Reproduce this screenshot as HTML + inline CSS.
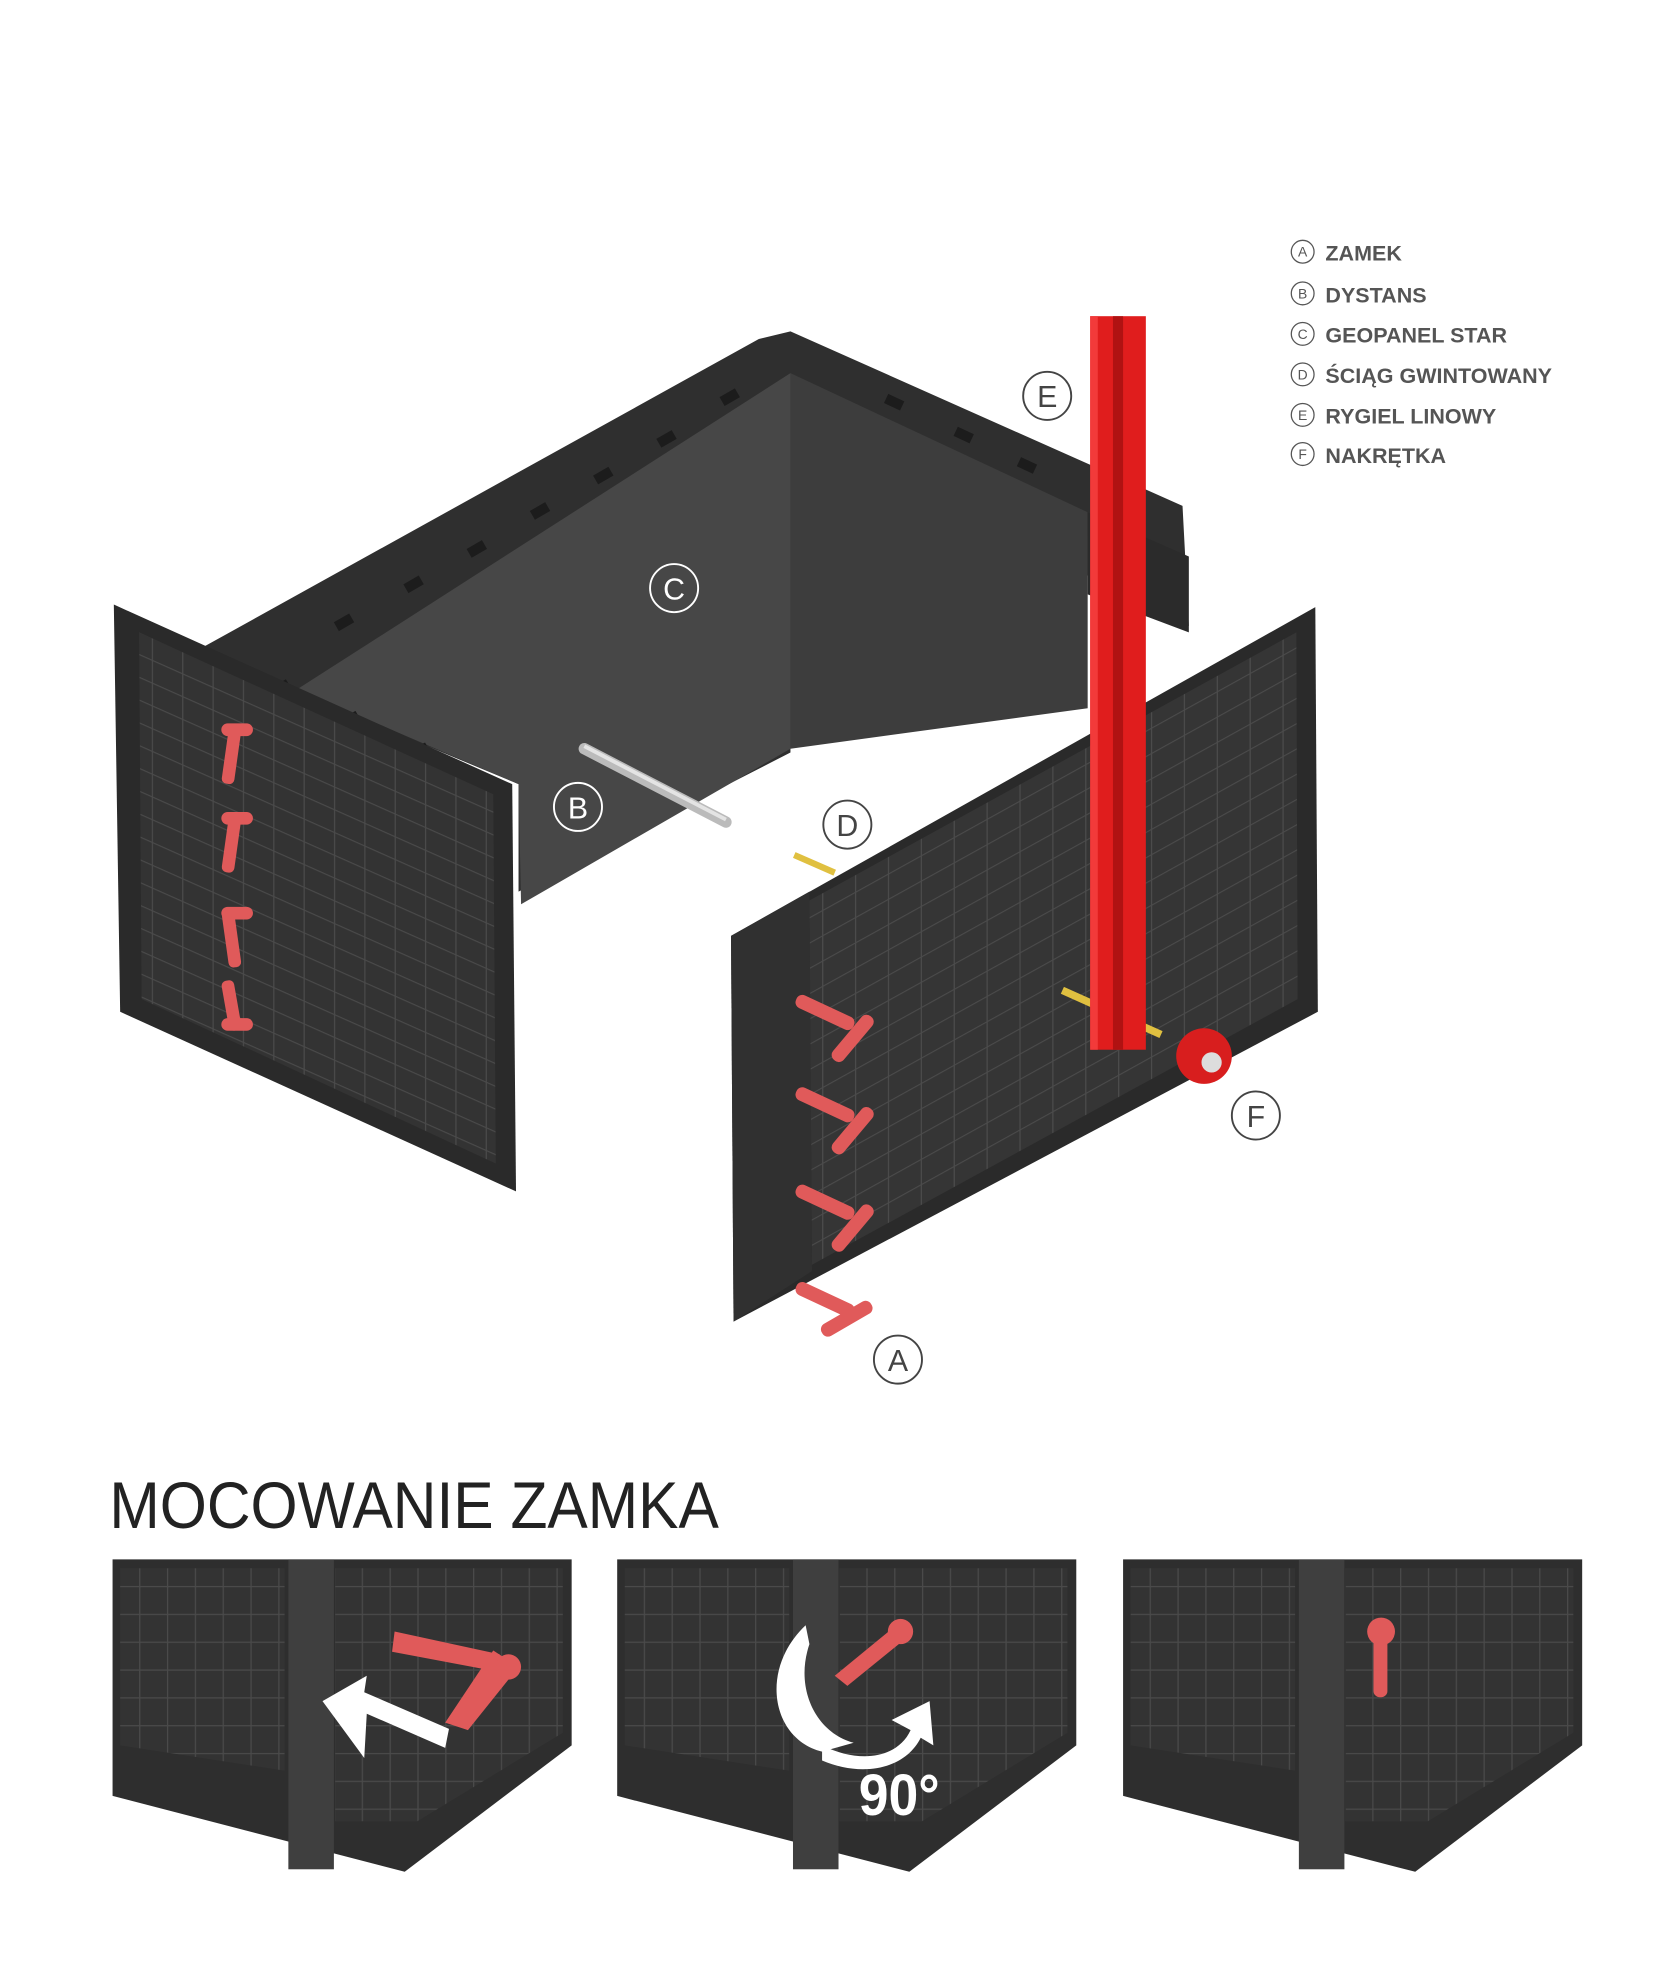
<!DOCTYPE html>
<html><head><meta charset="utf-8"><style>
html,body{margin:0;padding:0;background:#fff;}
svg{display:block;}
text{font-family:"Liberation Sans",sans-serif;}
</style></head><body>
<svg width="1653" height="1973" viewBox="0 0 1307 1560" xmlns="http://www.w3.org/2000/svg">
<defs>
<pattern id="grid" width="22" height="22" patternUnits="userSpaceOnUse">
<rect width="22" height="22" fill="#333"/>
<path d="M0 0H22M0 0V22" stroke="#4a4a4a" stroke-width="2"/>
</pattern>
<pattern id="grid2" width="26" height="20" patternUnits="userSpaceOnUse" patternTransform="skewY(-29)">
<rect width="26" height="20" fill="#353535"/>
<path d="M0 0H26M0 0V20" stroke="#4b4b4b" stroke-width="2"/>
</pattern>
<pattern id="grid3" width="24" height="18" patternUnits="userSpaceOnUse" patternTransform="skewY(24)">
<rect width="24" height="18" fill="#333"/>
<path d="M0 0H24M0 0V18" stroke="#4a4a4a" stroke-width="2"/>
</pattern>
</defs>

<!-- legend -->
<g font-size="17" font-weight="bold" fill="#555">
<g fill="none" stroke="#555" stroke-width="1"><circle cx="1030" cy="199" r="9"/><circle cx="1030" cy="232" r="9"/><circle cx="1030" cy="264" r="9"/><circle cx="1030" cy="296" r="9"/><circle cx="1030" cy="328" r="9"/><circle cx="1030" cy="359" r="9"/></g>
<g font-size="11" font-weight="normal" text-anchor="middle"><text x="1030" y="203">A</text><text x="1030" y="236">B</text><text x="1030" y="268">C</text><text x="1030" y="300">D</text><text x="1030" y="332">E</text><text x="1030" y="363">F</text></g>
<text x="1048" y="206">ZAMEK</text><text x="1048" y="239">DYSTANS</text><text x="1048" y="271">GEOPANEL STAR</text><text x="1048" y="303">ŚCIĄG GWINTOWANY</text><text x="1048" y="335">RYGIEL LINOWY</text><text x="1048" y="366">NAKRĘTKA</text>
</g>

<!-- back long wall -->
<polygon points="160,512 600,268 625,262 935,400 940,495 860,455 625,345 625,595 410,705 410,620 230,545" fill="#2f2f2f"/>
<polygon points="235,545 625,295 625,592 412,715 410,620" fill="#474747"/>
<polygon points="625,295 860,405 860,560 625,592" fill="#3d3d3d"/>
<polygon points="860,405 940,440 940,500 860,470" fill="#2b2b2b"/>
<g fill="#1c1c1c">
<rect x="265" y="488" width="14" height="8" transform="rotate(-30 272 492)"/>
<rect x="320" y="458" width="14" height="8" transform="rotate(-30 327 462)"/>
<rect x="370" y="430" width="14" height="8" transform="rotate(-30 377 434)"/>
<rect x="420" y="400" width="14" height="8" transform="rotate(-30 427 404)"/>
<rect x="470" y="372" width="14" height="8" transform="rotate(-30 477 376)"/>
<rect x="520" y="343" width="14" height="8" transform="rotate(-30 527 347)"/>
<rect x="570" y="310" width="14" height="8" transform="rotate(-30 577 314)"/>
<rect x="700" y="314" width="14" height="8" transform="rotate(25 707 318)"/>
<rect x="755" y="340" width="14" height="8" transform="rotate(25 762 344)"/>
<rect x="805" y="364" width="14" height="8" transform="rotate(25 812 368)"/>
<rect x="215" y="540" width="14" height="8" transform="rotate(-30 222 544)"/>
<rect x="270" y="565" width="14" height="8" transform="rotate(-30 277 569)"/>
<rect x="325" y="590" width="14" height="8" transform="rotate(-30 332 594)"/>
</g>

<!-- left end panel -->
<polygon points="90,478 405,620 408,942 95,800" fill="#2a2a2a"/>
<polygon points="110,500 390,628 392,920 112,790" fill="url(#grid3)"/>

<!-- spacer B -->
<line x1="462" y1="592" x2="574" y2="650" stroke="#bbb" stroke-width="9" stroke-linecap="round"/>
<line x1="462" y1="590" x2="574" y2="648" stroke="#e4e4e4" stroke-width="3"/>

<!-- rod D -->
<line x1="628" y1="676" x2="660" y2="690" stroke="#e0c040" stroke-width="5"/>

<!-- right front panel -->
<polygon points="578,740 1040,480 1042,800 580,1045" fill="#2a2a2a"/>
<polygon points="640,712 1025,500 1026,790 642,1000" fill="url(#grid2)"/>
<polygon points="578,740 640,705 642,1005 580,1045" fill="#303030"/>

<!-- rod behind beam -->
<line x1="840" y1="783" x2="918" y2="818" stroke="#e0c040" stroke-width="6"/>

<!-- red beam E -->
<rect x="862" y="250" width="44" height="580" fill="#e01d1d"/>
<rect x="880" y="250" width="8" height="580" fill="#b01212"/>
<rect x="862" y="250" width="6" height="580" fill="#f23a3a"/>

<!-- nut F -->
<circle cx="952" cy="835" r="22" fill="#d81e1e"/>
<circle cx="958" cy="840" r="8" fill="#ddd"/>

<!-- locks left panel -->
<g fill="#e05a5a">
<rect x="178" y="575" width="10" height="45" rx="4" transform="rotate(8 183 597)"/>
<rect x="175" y="572" width="25" height="10" rx="5"/>
<rect x="178" y="645" width="10" height="45" rx="4" transform="rotate(8 183 667)"/>
<rect x="175" y="642" width="25" height="10" rx="5"/>
<rect x="178" y="720" width="10" height="45" rx="4" transform="rotate(-8 183 742)"/>
<rect x="175" y="717" width="25" height="10" rx="5"/>
<rect x="178" y="775" width="10" height="40" rx="4" transform="rotate(-10 183 795)"/>
<rect x="175" y="805" width="25" height="10" rx="5"/>
</g>
<!-- locks right panel -->
<g fill="#e05a5a">
<g transform="translate(632,785)"><rect x="0" y="0" width="50" height="11" rx="5" transform="rotate(25)"/><rect x="50" y="18" width="11" height="45" rx="5" transform="rotate(40 55 20)"/></g>
<g transform="translate(632,858)"><rect x="0" y="0" width="50" height="11" rx="5" transform="rotate(25)"/><rect x="50" y="18" width="11" height="45" rx="5" transform="rotate(40 55 20)"/></g>
<g transform="translate(632,935)"><rect x="0" y="0" width="50" height="11" rx="5" transform="rotate(25)"/><rect x="50" y="18" width="11" height="45" rx="5" transform="rotate(40 55 20)"/></g>
<g transform="translate(632,1012)"><rect x="0" y="0" width="50" height="11" rx="5" transform="rotate(25)"/><rect x="50" y="18" width="11" height="45" rx="5" transform="rotate(60 55 20)"/></g>
</g>

<!-- callout circles -->
<g fill="none" stroke="#444" stroke-width="1.5">
<circle cx="828" cy="313" r="19"/><circle cx="533" cy="465" r="19" stroke="#fff"/><circle cx="457" cy="638" r="19" stroke="#fff"/><circle cx="670" cy="652" r="19"/><circle cx="993" cy="882" r="19"/><circle cx="710" cy="1075" r="19"/>
</g>
<g font-size="24" text-anchor="middle" fill="#444">
<text x="828" y="322">E</text><text x="533" y="474" fill="#fff">C</text><text x="457" y="647" fill="#fff">B</text><text x="670" y="661">D</text><text x="993" y="891">F</text><text x="710" y="1084">A</text>
</g>

<!-- title -->
<text x="87" y="1208" font-size="52" fill="#222" transform="scale(0.92 1) translate(7 0)">MOCOWANIE ZAMKA</text>

<!-- bottom panels -->
<g id="p1">
<polygon points="89,1233 452,1233 452,1380 320,1480 89,1420" fill="#2e2e2e"/>
<polygon points="95,1240 225,1240 225,1400 95,1380" fill="url(#grid)"/>
<polygon points="265,1240 445,1240 445,1370 330,1440 265,1440" fill="url(#grid)"/>
<rect x="228" y="1233" width="36" height="245" fill="#3f3f3f"/>
</g>
<use href="#p1" x="399"/>
<use href="#p1" x="799"/>

<!-- panel1 lock + arrow -->
<g fill="#e05a5a">
<polygon points="312,1290 395,1308 395,1322 310,1306"/>
<polygon points="390,1305 410,1318 370,1368 352,1362"/>
<circle cx="402" cy="1318" r="10"/>
</g>
<path d="M255,1345 L290,1325 L288,1338 L355,1367 L352,1382 L290,1355 L288,1390 Z" fill="#fff"/>

<!-- panel2 lock + arrow -->
<g fill="#e05a5a">
<circle cx="712" cy="1290" r="10"/>
<polygon points="705,1288 718,1294 670,1333 660,1325"/>
</g>
<path d="M637,1285 C600,1320 610,1375 650,1385 L675,1378 C645,1370 628,1335 640,1300 Z" fill="#fff"/>
<path d="M650,1380 C680,1395 710,1390 720,1368 L705,1360 L735,1345 L738,1380 L728,1374 C715,1400 680,1405 650,1392 Z" fill="#fff"/>
<text x="678" y="1435" font-size="46" font-weight="bold" fill="#fff" transform="scale(0.92 1) translate(60 0)">90°</text>

<!-- panel3 lock -->
<g fill="#e05a5a">
<circle cx="1092" cy="1290" r="11"/>
<rect x="1086" y="1290" width="11" height="52" rx="5"/>
</g>
</svg>
</body></html>
